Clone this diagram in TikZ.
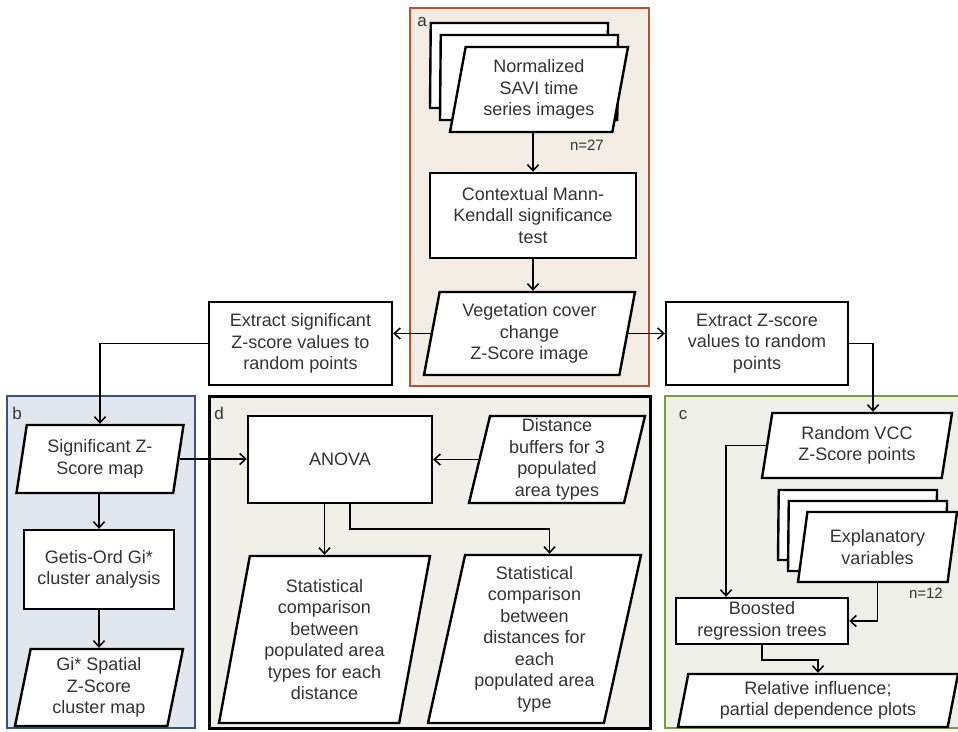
\documentclass[tikz,border=0pt]{standalone}
\usepackage{fontspec}
\setmainfont{Liberation Sans}
\usetikzlibrary{shapes.geometric,arrows.meta,calc}
\definecolor{aline}{RGB}{178,86,46}
\definecolor{afill}{RGB}{242,236,228}
\definecolor{bline}{RGB}{58,84,120}
\definecolor{bfill}{RGB}{226,231,239}
\definecolor{dfill}{RGB}{240,239,234}
\definecolor{cline}{RGB}{118,158,60}
\definecolor{cfill}{RGB}{239,239,233}

\begin{document}
\begin{tikzpicture}[x=1pt,y=-1pt] %% tikz
	\tikzstyle{panel}=[draw,line width=2.4pt,inner sep=0pt];
	\tikzstyle{tag}=[font=\fontsize{17}{17}\selectfont,inner sep=0pt,text=black!80];
	\tikzstyle{proc}=[draw,fill=white,line width=2.4pt,align=center,inner sep=1.5pt,font=\fontsize{18}{21.5}\selectfont,text=black!80];
	\tikzstyle{data}=[proc,trapezium,trapezium left angle=76,trapezium right angle=104,trapezium stretches body];
	\tikzstyle{count}=[font=\fontsize{15}{15}\selectfont,anchor=east,inner sep=0pt,text=black!80];
	\tikzstyle{conn}=[line width=1.5pt,-{Straight Barb[length=6pt,width=11pt]}];
	\useasboundingbox (0,0) rectangle (958,731);
	%% panels
	\node[panel,draw=aline,fill=afill,minimum width=239,minimum height=378] (pa) at (529.5,197) {};
	\node[panel,draw=bline,fill=bfill,minimum width=188,minimum height=332] (pb) at (101,562) {};
	\node[panel,draw=black,fill=dfill,line width=3pt,minimum width=441,minimum height=332] (pd) at (429.5,562) {};
	\node[panel,draw=cline,fill=cfill,minimum width=297,minimum height=332] (pc) at (813.5,562) {};
	\node[tag] (ta) at (422,22) {a};
	\node[tag] (tb) at (17,413) {b};
	\node[tag] (td) at (219,413) {d};
	\node[tag] (tc) at (683,415) {c};
	%% panel a
	\node[data,minimum width=178,minimum height=85] (savi3) at (519,65.5) {};
	\node[data,minimum width=178,minimum height=85] (savi2) at (529,77.5) {};
	\node[data,minimum width=178,minimum height=85] (savi) at (539,89.5) {Normalized\\SAVI time\\series images};
	\node[count] (n27) at (604,145) {n=27};
	\node[proc,minimum width=206,minimum height=85] (ctx) at (533,215.5) {Contextual Mann-\\Kendall significance\\test};
	\node[data,minimum width=211,minimum height=83] (vcc) at (529.5,333.5) {Vegetation cover\\change\\Z-Score image};
	%% extraction
	\node[proc,minimum width=183,minimum height=83] (xsig) at (300.5,343.5) {Extract significant\\Z-score values to\\random points};
	\node[proc,minimum width=182,minimum height=83] (xall) at (757,343.5) {Extract Z-score\\values to random\\points};
	%% panel b
	\node[data,minimum width=167,minimum height=68] (sig) at (100,459) {Significant Z-\\Score map};
	\node[proc,minimum width=150,minimum height=79] (gis) at (99,569.5) {Getis-Ord Gi*\\cluster analysis};
	\node[data,minimum width=168,minimum height=77] (gimap) at (99,687.5) {Gi* Spatial\\Z-Score\\cluster map};
	%% panel d
	\node[proc,minimum width=184,minimum height=87] (anova) at (340,459.5) {ANOVA};
	\node[data,minimum width=176,minimum height=87] (dist) at (557,459.5) {Distance\\buffers for 3\\populated\\area types};
	\node[data,minimum width=211,minimum height=167] (cmp1) at (324.5,639.5) {Statistical\\comparison\\between\\populated area\\types for each\\distance};
	\node[data,minimum width=213,minimum height=168] (cmp2) at (534.5,639) {Statistical\\comparison\\between\\distances for\\each\\populated area\\type};
	%% panel c
	\node[data,minimum width=190,minimum height=65] (pts) at (857,445.5) {Random VCC\\Z-Score points};
	\node[data,minimum width=159,minimum height=70] (expl3) at (857.5,525) {};
	\node[data,minimum width=159,minimum height=70] (expl2) at (867.5,536) {};
	\node[data,minimum width=159,minimum height=70] (expl) at (877.5,547) {Explanatory\\variables};
	\node[count] (n12) at (943,593) {n=12};
	\node[proc,minimum width=172,minimum height=46] (brt) at (762,621) {Boosted\\regression trees};
	\node[data,minimum width=280,minimum height=53] (rel) at (818,700.5) {Relative influence;\\partial dependence plots};
	%% connectors
	\draw[conn] (ctx.north |- savi.south) -- (ctx.north);
	\draw[conn] (ctx.south) -- (ctx.south |- vcc.north);
	\draw[conn] (vcc.west) -- (vcc.west -| xsig.east);
	\draw[conn] (vcc.east) -- (vcc.east -| xall.west);
	\draw[conn] (xsig.west) -| (sig.north);
	\draw[conn] (xall.east) -| ([xshift=16]pts.north);
	\draw[conn] (gis.north |- sig.south) -- (gis.north);
	\draw[conn] (gis.south) -- (gis.south |- gimap.north);
	\draw[conn] (sig.east) -- (sig.east -| anova.west);
	\draw[conn] (dist.west) -- (dist.west -| anova.east);
	\draw[conn] (anova.south -| cmp1.north) -- (cmp1.north);
	\draw[conn] ([xshift=10]anova.south) -- ++(0,25) -| ([xshift=15]cmp2.north);
	\draw[conn] (pts.west) -| ([xshift=-36]brt.north);
	\draw[conn] (expl.south) |- (brt.east);
	\draw[conn] (brt.south) -- ++(0,15) -| (rel.north);
\end{tikzpicture}
\end{document}
